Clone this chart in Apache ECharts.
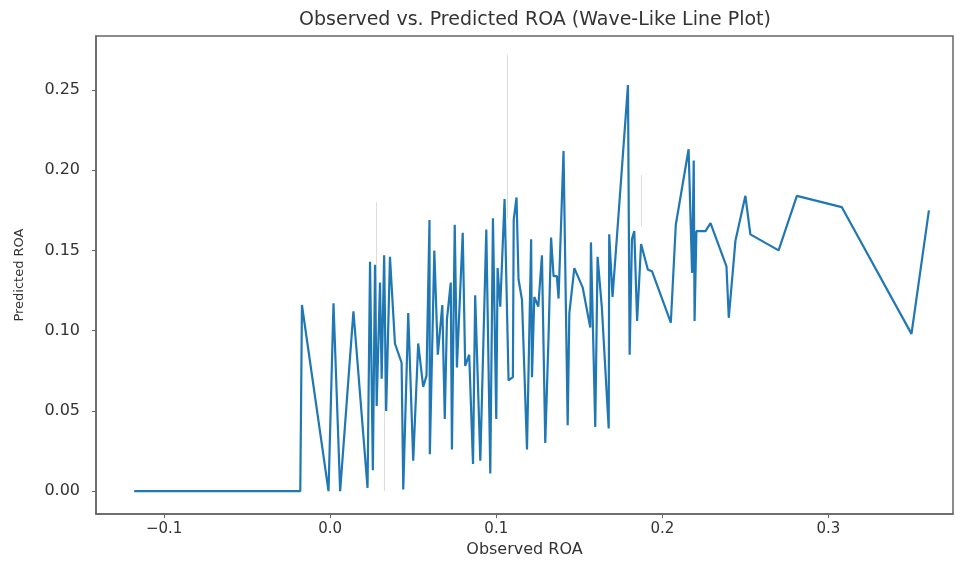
<!DOCTYPE html>
<html>
<head>
<meta charset="utf-8">
<script src="https://cdn.jsdelivr.net/npm/echarts@6/dist/echarts.min.js"></script>
<style>
html,body{margin:0;padding:0;background:#fff;}
#chart{width:956px;height:563px;}
</style>
</head>
<body>
<div id="chart"></div>
<script>
// Observed ROA (x) and Predicted ROA (y), in plotted (sorted) order
const obsROA = [-0.118, -0.018, -0.017, -0.001, 0.002, 0.006, 0.014, 0.0225, 0.024, 0.0257,
  0.027, 0.028, 0.030, 0.031, 0.0325, 0.0337, 0.036, 0.039, 0.043, 0.044,
  0.047, 0.050, 0.053, 0.056, 0.058, 0.0598, 0.060, 0.0627, 0.0648, 0.0675,
  0.069, 0.0703, 0.0726, 0.0733, 0.075, 0.0763, 0.0798, 0.0813, 0.0837, 0.086,
  0.0873, 0.0904, 0.094, 0.0964, 0.098, 0.100, 0.1008, 0.1024, 0.105, 0.1074,
  0.110, 0.1105, 0.1122, 0.1134, 0.1155, 0.1185, 0.121, 0.1215, 0.1229, 0.1253,
  0.1275, 0.1295, 0.1315, 0.133, 0.1345, 0.1365, 0.1375, 0.1405, 0.143, 0.144,
  0.147, 0.152, 0.1566, 0.157, 0.1596, 0.161, 0.1636, 0.1677, 0.168, 0.170,
  0.1793, 0.1803, 0.1817, 0.1831, 0.1848, 0.1872, 0.1913, 0.1938, 0.2051, 0.2081,
  0.2158, 0.2179, 0.2189, 0.2194, 0.2205, 0.226, 0.229, 0.2386, 0.240, 0.244,
  0.250, 0.253, 0.270, 0.281, 0.308, 0.350, 0.3605];
const predROA = [0, 0, 0.116, 0.000, 0.117, 0.000, 0.112, 0.002, 0.143, 0.013,
  0.141, 0.053, 0.130, 0.070, 0.147, 0.050, 0.146, 0.092, 0.080, 0.001,
  0.111, 0.019, 0.092, 0.065, 0.072, 0.169, 0.023, 0.150, 0.085, 0.116,
  0.045, 0.107, 0.130, 0.026, 0.166, 0.077, 0.161, 0.078, 0.085, 0.017,
  0.122, 0.019, 0.163, 0.011, 0.170, 0.045, 0.139, 0.115, 0.182, 0.069,
  0.071, 0.169, 0.183, 0.132, 0.119, 0.026, 0.157, 0.071, 0.121, 0.115,
  0.147, 0.030, 0.097, 0.158, 0.134, 0.134, 0.120, 0.212, 0.041, 0.111,
  0.139, 0.127, 0.102, 0.155, 0.040, 0.146, 0.114, 0.039, 0.160, 0.121,
  0.253, 0.085, 0.157, 0.162, 0.106, 0.154, 0.138, 0.137, 0.105, 0.166,
  0.213, 0.136, 0.206, 0.106, 0.162, 0.162, 0.167, 0.140, 0.108, 0.156,
  0.184, 0.160, 0.150, 0.184, 0.177, 0.098, 0.175];
// faint vertical traces visible in the background: [x, yTop, yBottom]
const faintX = [0.028, 0.0325, 0.1065, 0.187];
const faintTop = [0.180, 0.120, 0.272, 0.197];
const faintBottom = [0.100, 0.000, 0.170, 0.165];

const xTickDigits = 1;
const yTickDigits = 2;

const chart = echarts.init(document.getElementById('chart'), null, {renderer: 'canvas'});
const seriesData = obsROA.map((x, i) => [x, predROA[i]]);
const faintLines = faintX.map((x, i) => [{coord: [x, faintTop[i]]}, {coord: [x, faintBottom[i]]}]);
const FONT = 'DejaVu Sans';

chart.setOption({
  animation: false,
  backgroundColor: '#ffffff',
  title: {
    text: 'Observed vs. Predicted ROA (Wave-Like Line Plot)',
    left: 530, top: 6, textAlign: 'center',
    textStyle: {fontFamily: FONT, fontSize: 19, fontWeight: 'normal', color: '#333'}
  },
  grid: {left: 96, right: 3, top: 36, bottom: 48, show: true, borderColor: '#666', borderWidth: 1.5},
  xAxis: {
    type: 'value', min: -0.141, max: 0.375, splitNumber: 5,
    name: 'Observed ROA', nameLocation: 'middle', nameGap: 27,
    nameTextStyle: {fontFamily: FONT, fontSize: 16, color: '#333'},
    axisLine: {show: true, onZero: false, lineStyle: {color: '#666', width: 1.5}},
    axisTick: {show: true, inside: false, length: 4, lineStyle: {color: '#666'}},
    splitLine: {show: false},
    axisLabel: {
      fontFamily: FONT, fontSize: 15, color: '#333', margin: 8,
      showMinLabel: false, showMaxLabel: false,
      formatter: v => v.toFixed(xTickDigits).replace('-', '\u2212')
    }
  },
  yAxis: {
    type: 'value', min: -0.0143, max: 0.2836, splitNumber: 5,
    name: 'Predicted ROA', nameLocation: 'middle', nameGap: 70, nameRotate: 90,
    nameTextStyle: {fontFamily: FONT, fontSize: 13, color: '#333'},
    axisLine: {show: true, onZero: false, lineStyle: {color: '#666', width: 1.5}},
    axisTick: {show: true, inside: false, length: 4, lineStyle: {color: '#666'}},
    splitLine: {show: false},
    axisLabel: {
      fontFamily: FONT, fontSize: 16, color: '#333', margin: 16,
      showMinLabel: false, showMaxLabel: false,
      formatter: v => v.toFixed(yTickDigits).replace('-', '\u2212')
    }
  },
  series: [{
    type: 'line',
    data: seriesData,
    showSymbol: false,
    symbol: 'none',
    lineStyle: {color: '#1f77b4', width: 2.2},
    z: 3,
    markLine: {
      silent: true, symbol: 'none', label: {show: false},
      lineStyle: {color: '#dcdcdc', width: 1, type: 'solid'},
      data: faintLines,
      z: 1
    }
  }]
});
</script>
</body>
</html>
